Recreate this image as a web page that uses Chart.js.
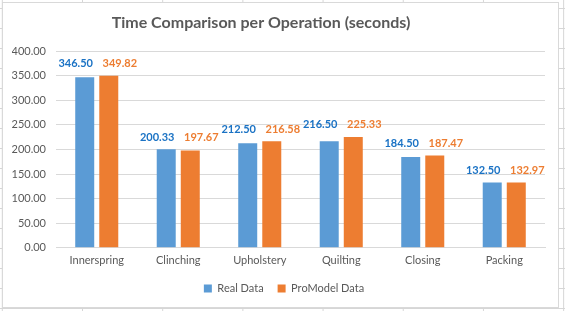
<!DOCTYPE html>
<html>
<head>
<meta charset="utf-8">
<script src="https://cdn.jsdelivr.net/npm/chart.js@4.4.0/dist/chart.umd.min.js"></script>
<style>
  html, body { margin: 0; padding: 0; }
  body {
    width: 565px; height: 311px; overflow: hidden; position: relative;
    background-color: #fff;
    background-image:
      linear-gradient(to right, #d6d6d6 1px, transparent 1px),
      linear-gradient(to bottom, #d6d6d6 1px, transparent 1px);
    background-size: 80.2px 20px;
    background-position: 82px 8px;
  }
  #frame {
    position: absolute; left: 2px; top: 2px; width: 555px; height: 304px;
    background: #fff; border: 1px solid #d9d9d9;
  }
  #chart { position: absolute; left: 0; top: 0; }
</style>
</head>
<body>
<div id="frame"></div>
<canvas id="chart" width="565" height="311"></canvas>
<script>
// data
const operations = ['Innerspring', 'Clinching', 'Upholstery', 'Quilting', 'Closing', 'Packing'];
const realData = [346.50, 200.33, 212.50, 216.50, 184.50, 132.50];
const proModelData = [349.82, 197.67, 216.58, 225.33, 187.47, 132.97];
const seriesNames = ['Real Data', 'ProModel Data'];
const yTicks = [0, 50, 100, 150, 200, 250, 300, 350, 400];
const chartTitle = 'Time Comparison per Operation (seconds)';

const FONT = 'Lato, Calibri, "Liberation Sans", sans-serif';
const GREY = '#595959';
const labelColors = ['#1a72c4', '#ed7d31'];
const labelShift = [-9, 11];

// title is placed like in the excel sheet (a bit left of centre)
const sheetTitle = {
    id: 'sheetTitle',
    afterDraw(chart) {
        const ctx = chart.ctx;
        ctx.save();
        ctx.font = 'bold 16px ' + FONT;
        ctx.fillStyle = GREY;
        ctx.textAlign = 'center';
        ctx.textBaseline = 'middle';
        ctx.fillText(chartTitle, 261, 23);
        ctx.restore();
    }
};

// value labels above each pair of bars (same height inside a group)
const valueLabels = {
    id: 'valueLabels',
    afterDatasetsDraw(chart) {
        const ctx = chart.ctx;
        ctx.save();
        ctx.font = 'bold 11px ' + FONT;
        ctx.textAlign = 'center';
        ctx.textBaseline = 'middle';
        operations.forEach((op, i) => {
            const bars = chart.data.datasets.map((ds, d) => chart.getDatasetMeta(d).data[i]);
            const top = Math.min(...bars.map(b => b.y));
            bars.forEach((b, d) => {
                ctx.fillStyle = labelColors[d];
                ctx.fillText(chart.data.datasets[d].data[i].toFixed(2), b.x + labelShift[d], top - 12);
            });
        });
        ctx.restore();
    }
};

new Chart(document.getElementById('chart'), {
    type: 'bar',
    data: {
        labels: operations,
        datasets: [
            { label: seriesNames[0], data: realData, backgroundColor: '#5b9bd5' },
            { label: seriesNames[1], data: proModelData, backgroundColor: '#ed7d31' }
        ]
    },
    options: {
        responsive: false,
        animation: false,
        devicePixelRatio: 1,
        layout: { padding: { left: 12, right: 9, top: 51, bottom: 7 } },
        datasets: { bar: { categoryPercentage: 0.59, barPercentage: 0.79 } },
        scales: {
            x: {
                grid: { display: false, drawTicks: false },
                border: { color: '#d9d9d9' },
                afterFit: s => { s.height -= 4; },
                ticks: { color: GREY, font: { family: FONT, size: 11 }, padding: 6 }
            },
            y: {
                min: 0, max: 400,
                afterBuildTicks: s => { s.ticks = yTicks.map(v => ({ value: v })); },
                afterFit: s => { s.width = 44; },
                grid: { color: '#d9d9d9', drawTicks: false },
                border: { display: false },
                ticks: {
                    color: GREY, padding: 10,
                    font: { family: FONT, size: 11 },
                    callback: v => v.toFixed(2)
                }
            },
            // empty strip on the right so the legend sits where excel puts it
            spacer: {
                type: 'linear', position: 'right',
                afterFit: s => { s.width = 11; },
                grid: { display: false, drawTicks: false },
                border: { display: false },
                ticks: { display: false }
            }
        },
        plugins: {
            title: { display: false },
            legend: {
                position: 'bottom',
                labels: {
                    color: GREY, boxWidth: 8, boxHeight: 8, padding: 14,
                    font: { family: FONT, size: 11 }
                }
            },
            tooltip: { enabled: false }
        }
    },
    plugins: [valueLabels, sheetTitle]
});
</script>
</body>
</html>
